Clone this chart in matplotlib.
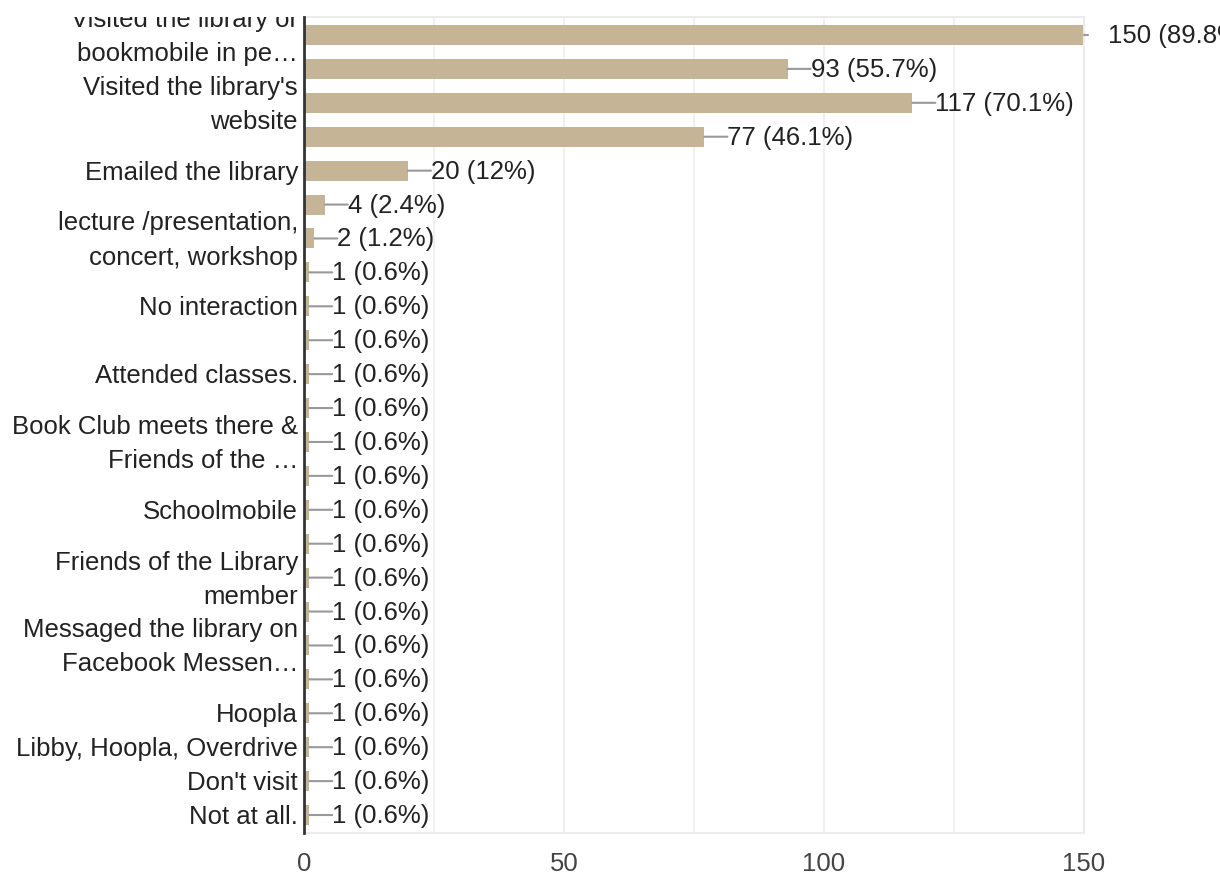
import matplotlib
matplotlib.use("Agg")
import matplotlib.pyplot as plt
from matplotlib.transforms import Bbox

# ---- data ----
tick_labels = [
    "Visited the library or\nbookmobile in pe\u2026",
    "",
    "Visited the library's\nwebsite",
    "",
    "Emailed the library",
    "",
    "lecture /presentation,\nconcert, workshop",
    "",
    "No interaction",
    "",
    "Attended classes.",
    "",
    "Book Club meets there &\nFriends of the \u2026",
    "",
    "Schoolmobile",
    "",
    "Friends of the Library\nmember",
    "",
    "Messaged the library on\nFacebook Messen\u2026",
    "",
    "Hoopla",
    "Libby, Hoopla, Overdrive",
    "Don't visit",
    "Not at all.",
]
values = [150, 93, 117, 77, 20, 4, 2, 1, 1, 1, 1, 1, 1, 1, 1, 1, 1, 1, 1, 1, 1, 1, 1, 1]
percents = ["89.8", "55.7", "70.1", "46.1", "12", "2.4", "1.2", "0.6", "0.6", "0.6",
            "0.6", "0.6", "0.6", "0.6", "0.6", "0.6", "0.6", "0.6", "0.6", "0.6",
            "0.6", "0.6", "0.6", "0.6"]
x_ticks = [0, 50, 100, 150]

# ---- style ----
FONT = "Liberation Sans"
FS = 18.5
BAR = "#c5b596"
W, H = 1220, 873
plt.rcParams["font.family"] = [FONT, "DejaVu Sans"]

fig = plt.figure(figsize=(W / 100, H / 100), dpi=100)
ax = fig.add_axes([304 / W, 1 - 833 / H, (1084 - 304) / W, (833 - 17) / H])

n = len(values)
ypos = list(range(n))
ax.barh(ypos, values, height=0.59, color=BAR, zorder=2)
ax.set_xlim(0, 150)
ax.set_ylim(n - 0.47, -0.53)

# gridlines (major + minor)
for gx in [25, 50, 75, 100, 125]:
    ax.axvline(gx, color="#f0f0f0", lw=1.5, zorder=0)

ax.set_xticks(x_ticks)
ax.set_xticklabels([str(t) for t in x_ticks], fontsize=FS, color="#444444")
ax.tick_params(axis="x", length=0, pad=14)
ax.set_yticks([])

for s in ["top", "right", "bottom"]:
    ax.spines[s].set_color("#ebebeb")
    ax.spines[s].set_linewidth(1.5)
ax.spines["left"].set_color("#333333")
ax.spines["left"].set_linewidth(2)
ax.spines["left"].set_zorder(5)

# category labels, clipped at the top of the plot area like the reference
clip = Bbox.from_extents(0, 0, 302, H - 17)
for y, lab in zip(ypos, tick_labels):
    if not lab:
        continue
    t = ax.annotate(lab, xy=(0, y), xycoords=("axes fraction", "data"),
                    xytext=(-6, -2), textcoords="offset pixels",
                    ha="right", va="center", fontsize=FS, color="#222222",
                    multialignment="right", linespacing=1.53,
                    annotation_clip=False)
    t.set_clip_box(clip)
    t.set_clip_on(True)

# value labels with connector lines
for y, v, p in zip(ypos, values, percents):
    if v >= 150:
        line_len, txt_off = 4, 24
    else:
        line_len, txt_off = 23, 23
    ax.annotate("", xy=(v, y), xytext=(line_len, 0), textcoords="offset pixels",
                arrowprops=dict(arrowstyle="-", color="#999999", lw=1.5,
                                shrinkA=0, shrinkB=0),
                annotation_clip=False)
    ax.annotate(f"{v} ({p}%)", xy=(v, y), xytext=(txt_off, -1),
                textcoords="offset pixels", ha="left", va="center",
                fontsize=FS, color="#222222", annotation_clip=False)

fig.savefig("out.png", dpi=100, facecolor="white")
